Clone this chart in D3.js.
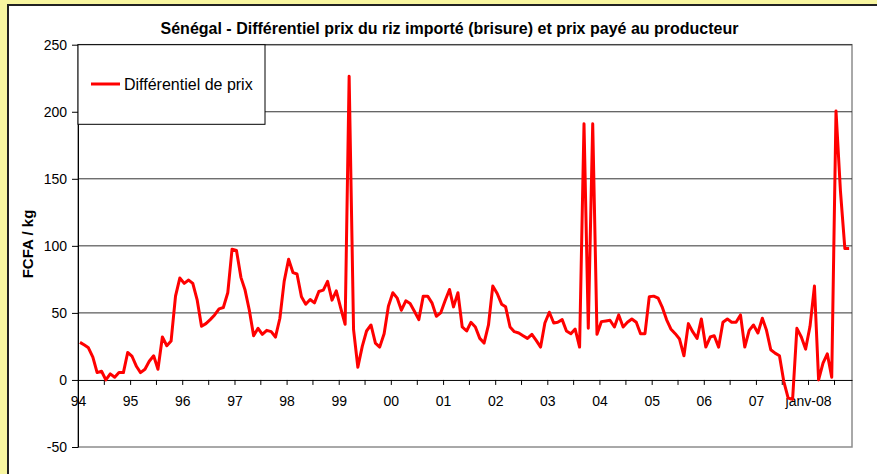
<!DOCTYPE html>
<html>
<head>
<meta charset="utf-8">
<script src="https://cdn.jsdelivr.net/npm/d3@7"></script>
<style>
  body { margin: 0; background: #f8f6a0; }
  svg { display: block; font-family: "Liberation Sans", Arial, sans-serif; }
</style>
</head>
<body>
<div class="canvas"></div>
<script>
// categories : one point per month, first month = janvier 1994
const startYear = 1994;
const yearLabels = ['94','95','96','97','98','99','00','01','02','03','04','05','06','07','janv-08'];

// Différentiel de prix (FCFA / kg), monthly
const differentiel = [
  28, 26, 24, 17, 5.5, 6.5, 0, 4.5, 2, 5.5, 5.5, 20.5,            // 94
  17.5, 10, 5.5, 8, 14, 18, 8, 32, 25.5, 29, 62.5, 76,            // 95
  72, 74.5, 72, 59.5, 40, 42, 45, 48.5, 53, 54, 65, 97.5,         // 96
  96.5, 76.5, 67.5, 52, 33, 38.5, 34, 37, 36, 32, 46, 73.5,       // 97
  90, 80, 79, 62, 56.5, 60, 57.5, 66, 67, 73.5, 59.5, 66.5,       // 98
  53.5, 41.5, 226.5, 37.5, 9.5, 25, 36.5, 41, 27.5, 24.5, 34.5, 55, // 99
  65, 61, 52, 59, 57, 51, 45, 62.5, 62.5, 57.5, 47.5, 50,         // 00
  59, 67.5, 54.5, 65, 39.5, 36.5, 43, 39.5, 31, 27.5, 41, 70,     // 01
  64.5, 56.5, 54.5, 39.5, 36, 35, 33, 31, 34, 29.5, 24.5, 42.5,   // 02
  50.5, 42.5, 43, 45, 36.5, 34.5, 38, 24.5, 191, 38.5, 191, 34,   // 03
  43.5, 44, 44.5, 39.5, 48.5, 39.5, 43, 45.5, 43, 34.5, 34.5, 62, // 04
  62.5, 61, 54.5, 45, 38, 34.5, 30.5, 18, 42, 36, 31, 45.5,       // 05
  24.5, 32, 33, 24.5, 43, 45.5, 43, 43, 48.5, 24.5, 37, 41,       // 06
  35, 46, 37.5, 22.5, 20, 18, -1, -13.5, -14.5, 38.5, 32, 23,     // 07
  40, 70, 0, 12.5, 19.5, 2, 200.5, 141, 98, 98                    // 08
];

const yTicks = [-50, 0, 50, 100, 150, 200, 250];

const width = 877, height = 474;
const plot = {left: 78, right: 852, top: 44.7, bottom: 447};

const svg = d3.select('.canvas')
    .append('svg')
    .attr('width', width)
    .attr('height', height);

// chart area (white, dark frame)
svg.append('rect')
    .attr('x', 8).attr('y', 5)
    .attr('width', width).attr('height', height)
    .attr('fill', '#fff')
    .attr('stroke', '#222')
    .attr('stroke-width', 2);

// data points sit mid-month
const data = differentiel.map((v, i) => ({
    date: new Date(startYear, i, 15),
    value: v
}));

const x = d3.scaleTime()
    .domain([new Date(1994, 0, 1), new Date(2008, 10, 4)])
    .range([plot.left, plot.right]);

const y = d3.scaleLinear()
    .domain([-50, 250])
    .range([plot.bottom, plot.top]);

// plot area frame
svg.append('rect')
    .attr('x', plot.left).attr('y', plot.top)
    .attr('width', plot.right - plot.left)
    .attr('height', plot.bottom - plot.top)
    .attr('fill', '#fff')
    .attr('stroke', '#8c8c8c')
    .attr('stroke-width', 1.5);

// gridlines
svg.append('g')
    .selectAll('line')
    .data(yTicks.filter(d => d > 0))
    .enter().append('line')
    .attr('x1', plot.left).attr('x2', plot.right)
    .attr('y1', d => y(d)).attr('y2', d => y(d))
    .attr('stroke', '#333')
    .attr('stroke-width', 1);

// title
svg.append('text')
    .attr('x', 449.5).attr('y', 34)
    .attr('text-anchor', 'middle')
    .style('font-size', '16px')
    .style('font-weight', 'bold')
    .text('Sénégal - Différentiel prix du riz importé (brisure) et prix payé au producteur');

// y axis title
svg.append('text')
    .attr('transform', 'translate(33,244) rotate(-90)')
    .attr('text-anchor', 'middle')
    .style('font-size', '15px')
    .style('font-weight', 'bold')
    .text('FCFA / kg');

// axes
const yAxis = d3.axisLeft(y)
    .tickValues(yTicks)
    .tickSize(6)
    .tickSizeOuter(0)
    .tickPadding(5)
    .tickFormat(d => String(d));

const tickDates = d3.timeMonth.every(6).range(new Date(1994, 0, 1), new Date(2008, 7, 1));
const xAxis = d3.axisBottom(x)
    .tickValues(tickDates)
    .tickSize(5)
    .tickSizeOuter(0)
    .tickPadding(11)
    .tickFormat(d => d.getMonth() === 0 ? yearLabels[d.getFullYear() - startYear] : '');

const yAxisGroup = svg.append('g')
    .attr('transform', 'translate(' + plot.left + ',0)')
    .call(yAxis);

const xAxisGroup = svg.append('g')
    .attr('transform', 'translate(0,' + y(0) + ')')
    .call(xAxis);

[yAxisGroup, xAxisGroup].forEach(g => {
    g.selectAll('path, line').attr('stroke', '#000');
    g.selectAll('text')
        .attr('fill', '#000')
        .style('font-size', '14px')
        .style('font-family', '"Liberation Sans", Arial, sans-serif');
});

// the line
const line = d3.line()
    .x(d => x(d.date))
    .y(d => y(d.value));

svg.append('path')
    .datum(data)
    .attr('d', line)
    .attr('fill', 'none')
    .attr('stroke', '#ff0000')
    .attr('stroke-width', 3)
    .attr('stroke-linejoin', 'round');

// legend
const legend = svg.append('g');
legend.append('rect')
    .attr('x', plot.left).attr('y', plot.top)
    .attr('width', 187).attr('height', 79.6)
    .attr('fill', '#fff')
    .attr('stroke', '#000')
    .attr('stroke-width', 1);
legend.append('line')
    .attr('x1', 91).attr('x2', 120)
    .attr('y1', 84).attr('y2', 84)
    .attr('stroke', '#ff0000')
    .attr('stroke-width', 3);
legend.append('text')
    .attr('x', 124).attr('y', 84)
    .attr('dy', '0.36em')
    .style('font-size', '16px')
    .text('Différentiel de prix');
</script>
</body>
</html>
